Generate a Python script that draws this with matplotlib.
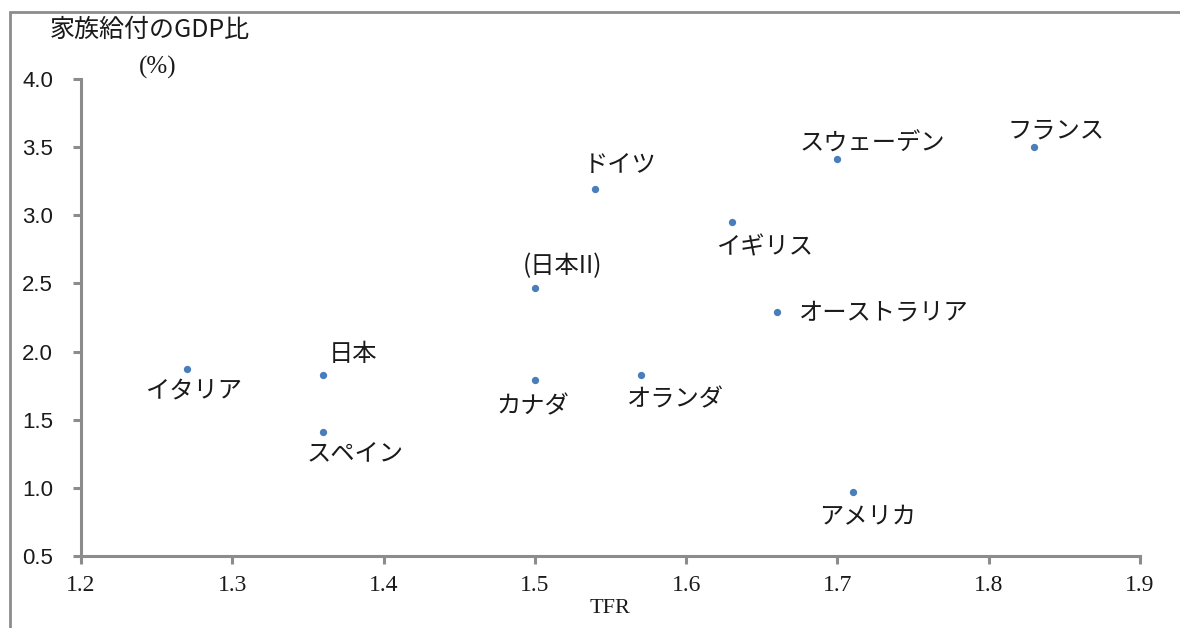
import matplotlib
matplotlib.use("Agg")
import matplotlib.pyplot as plt
from matplotlib.patches import Rectangle

plt.rcParams['font.family'] = ['Noto Sans CJK JP', 'DejaVu Sans']

# データ (TFR, 家族給付のGDP比)
countries = ['イタリア', '日本', 'スペイン', '(日本II)', 'カナダ', 'ドイツ',
             'オランダ', 'イギリス', 'オーストラリア', 'スウェーデン', 'アメリカ', 'フランス']
tfr = [1.27, 1.36, 1.36, 1.50, 1.50, 1.54, 1.57, 1.63, 1.66, 1.70, 1.71, 1.83]
gdp_ratio = [1.87, 1.83, 1.41, 2.47, 1.79, 3.19, 1.83, 2.95, 2.29, 3.41, 0.97, 3.50]

# ラベルの位置 (pixels)
offsets = [(8, -21), (30, 21), (32, -21), (28, 21), (-2, -26), (25, 24),
           (35, -25), (34, -25), (22, -1), (35, 16), (15, -25), (22, 17)]
aligns = ['center'] * 8 + ['left'] + ['center'] * 3

gray = '#8c8c8c'
txt = '#1a1a1a'

fig = plt.figure(figsize=(11.8, 6.28), dpi=100)
ax = fig.add_axes([0.0686, 0.1146, 0.8975, 0.7596])

ax.scatter(tfr, gdp_ratio, s=18, color='#4a7ebb', zorder=3)

for name, x, y, off, ha in zip(countries, tfr, gdp_ratio, offsets, aligns):
    ax.annotate(name, (x, y), xytext=off, textcoords='offset pixels',
                ha=ha, va='center', fontsize=17.5, color=txt)

ax.set_xlim(1.2, 1.9)
ax.set_ylim(0.5, 4.0)
ax.set_xticks([1.2, 1.3, 1.4, 1.5, 1.6, 1.7, 1.8, 1.9])
ax.set_yticks([0.5, 1.0, 1.5, 2.0, 2.5, 3.0, 3.5, 4.0])
ax.set_xticklabels([f'{v:.1f}' for v in ax.get_xticks()],
                   fontfamily='Liberation Serif', fontsize=17, color=txt)
ax.set_yticklabels([f'{v:.1f}' for v in ax.get_yticks()],
                   fontfamily='Liberation Sans', fontsize=16, color=txt)

for side in ['top', 'right']:
    ax.spines[side].set_visible(False)
for side in ['left', 'bottom']:
    ax.spines[side].set_color(gray)
    ax.spines[side].set_linewidth(2.2)
ax.tick_params(direction='out', length=6, width=2.2, color=gray)
ax.tick_params(axis='y', pad=14)
ax.tick_params(axis='x', pad=8)

ax.set_xlabel('TFR', fontfamily='Liberation Serif', fontsize=16, color=txt,
              labelpad=2)
fig.text(0.0424, 0.952, '家族給付のGDP比', fontsize=18, color=txt,
         ha='left', va='center')
fig.text(0.134, 0.892, '(%)', fontfamily='Liberation Serif', fontsize=18,
         color=txt, ha='center', va='center')

# 外枠
fig.patches.append(Rectangle((10 / 1180, -0.1), 1.2, 1.1 - 12 / 628,
                             transform=fig.transFigure, fill=False,
                             edgecolor=gray, linewidth=2))

fig.savefig('out.png', dpi=100)
